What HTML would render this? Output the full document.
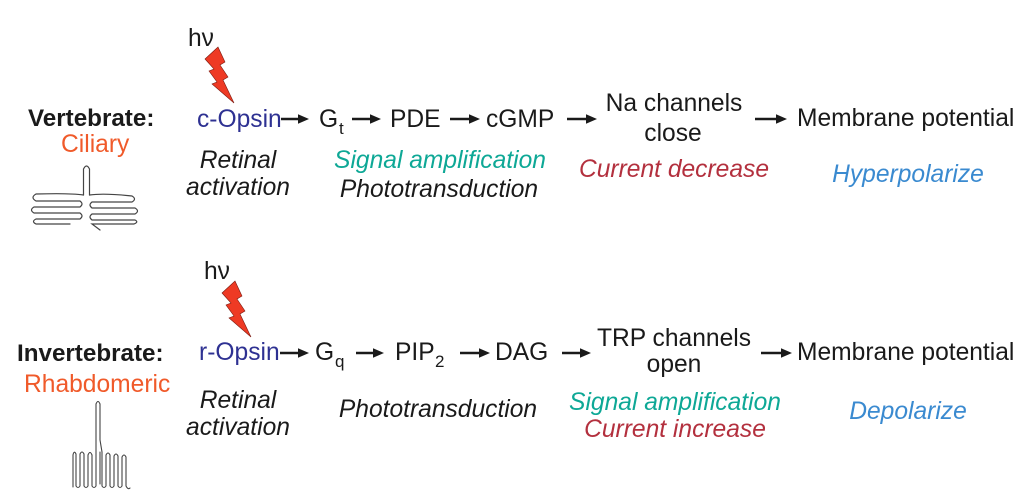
<!DOCTYPE html>
<html>
<head>
<meta charset="utf-8">
<style>
html,body{margin:0;padding:0;background:#fff;}
svg{display:block;}
text{font-family:"Liberation Sans",Arial,sans-serif;font-size:24.6px;fill:#1a1a1a;}
.b{font-weight:bold;font-size:24.2px;}
.i{font-style:italic;}
.blue{fill:#2e3192;}
.or{fill:#f05a2a;}
.teal{fill:#0ea896;}
.red{fill:#b3303e;}
.lb{fill:#3a8ad0;}
.m{text-anchor:middle;}
.sub{font-size:17px;}
</style>
</head>
<body>
<svg width="1024" height="500" viewBox="0 0 1024 500" xmlns="http://www.w3.org/2000/svg">
<defs>
<g id="ah"><polygon points="-11,-4.8 0,0 -11,4.8" fill="#1a1a1a"/></g>
</defs>

<!-- ===== TOP ROW ===== -->
<text x="188" y="46">hν</text>
<polygon points="205,59 218,47 225,62 220,65 228,77 223,80 234,103 212,84 217,82 209,71 214,69" fill="#ee3a24" stroke="#7a1a10" stroke-width="0.6"/>

<text class="b" x="28" y="126">Vertebrate:</text>
<text class="or" x="61" y="152">Ciliary</text>

<!-- ciliary cell -->
<g fill="none" stroke="#444" stroke-width="1.2" stroke-linecap="round">
<path d="M83.5 195 L83.5 169 Q86.5 163 89.5 169 L89.5 195"/>
<path d="M83.5 195 Q70 193 36 194 Q30 197.5 36 201 L80 201 Q84 204 80 207 L34 207 Q29 210 34 213 L80 213 Q84 216 80 219 L36 219 Q31 221.5 36 224 L70 224"/>
<path d="M89.5 195 Q104 193 132 196 Q137 199 132 202 L92 202 Q88 205 92 208 L135 208 Q140 211 135 214 L92 214 Q88 217 92 220 L135 220 Q139 222 134 224 L92 224 L100 230"/>
</g>

<text class="blue" x="197" y="127">c-Opsin</text>

<g stroke="#1a1a1a" stroke-width="2.6">
<line x1="281" y1="119" x2="300" y2="119"/>
<line x1="352" y1="119" x2="372" y2="119"/>
<line x1="450" y1="119" x2="471" y2="119"/>
<line x1="567" y1="119" x2="588" y2="119"/>
<line x1="755" y1="119" x2="778" y2="119"/>
</g>
<use href="#ah" x="309" y="119"/>
<use href="#ah" x="381" y="119"/>
<use href="#ah" x="480" y="119"/>
<use href="#ah" x="597" y="119"/>
<use href="#ah" x="787" y="119"/>

<text x="319" y="127">G</text><text class="sub" x="339" y="134">t</text>
<text x="390" y="127">PDE</text>
<text x="486" y="127">cGMP</text>
<text class="m" x="674" y="111">Na channels</text>
<text class="m" x="673" y="141">close</text>
<text x="797" y="126">Membrane potential</text>

<text class="i m" x="238" y="168">Retinal</text>
<text class="i m" x="238" y="195">activation</text>
<text class="i m teal" x="440" y="168">Signal amplification</text>
<text class="i m" x="439" y="197">Phototransduction</text>
<text class="i m red" x="674" y="177">Current decrease</text>
<text class="i m lb" x="908" y="182">Hyperpolarize</text>

<!-- ===== BOTTOM ROW ===== -->
<text x="204" y="279">hν</text>
<polygon points="222,293 235,281 242,296 237,299 245,311 240,314 251,337 229,318 234,316 226,305 231,303" fill="#ee3a24" stroke="#7a1a10" stroke-width="0.6"/>

<text class="b" x="17" y="361">Invertebrate:</text>
<text class="or" x="24" y="392">Rhabdomeric</text>

<!-- rhabdomeric cell -->
<g fill="none" stroke="#444" stroke-width="1.1" stroke-linecap="round">
<path d="M96 452 L96 404 Q98 399 100 404 L100 440 Q101 446 102 452"/>
<path d="M96 452 L96 486 Q94 489 92 486 L92 455 Q90 450 88 455 L88 486 Q86 489 84 486 L84 454 Q82 450 80 454 L80 486 Q78 489 76 486 L76 454 Q74 450 73 455 L73 487"/>
<path d="M102 452 L102 486 Q104 489 106 486 L106 455 Q108 451 110 455 L110 486 Q112 489 114 486 L114 456 Q116 452 118 456 L118 486 Q120 489 122 486 L122 457 Q124 453 126 457 L126 486 Q128 490 130 488"/>
<path d="M100 452 L100 484"/>
</g>

<text class="blue" x="199" y="360">r-Opsin</text>

<g stroke="#1a1a1a" stroke-width="2.6">
<line x1="280" y1="353" x2="300" y2="353"/>
<line x1="356" y1="353" x2="375" y2="353"/>
<line x1="460" y1="353" x2="481" y2="353"/>
<line x1="562" y1="353" x2="582" y2="353"/>
<line x1="761" y1="353" x2="783" y2="353"/>
</g>
<use href="#ah" x="309" y="353"/>
<use href="#ah" x="384" y="353"/>
<use href="#ah" x="490" y="353"/>
<use href="#ah" x="591" y="353"/>
<use href="#ah" x="792" y="353"/>

<text x="315" y="360">G</text><text class="sub" x="335" y="367">q</text>
<text x="395" y="360">PIP</text><text class="sub" x="435" y="367">2</text>
<text x="495" y="360">DAG</text>
<text class="m" x="674" y="346">TRP channels</text>
<text class="m" x="674" y="372">open</text>
<text x="797" y="360">Membrane potential</text>

<text class="i m" x="238" y="408">Retinal</text>
<text class="i m" x="238" y="435">activation</text>
<text class="i m" x="438" y="417">Phototransduction</text>
<text class="i m teal" x="675" y="410">Signal amplification</text>
<text class="i m red" x="675" y="437">Current increase</text>
<text class="i m lb" x="908" y="419">Depolarize</text>
</svg>
</body>
</html>
